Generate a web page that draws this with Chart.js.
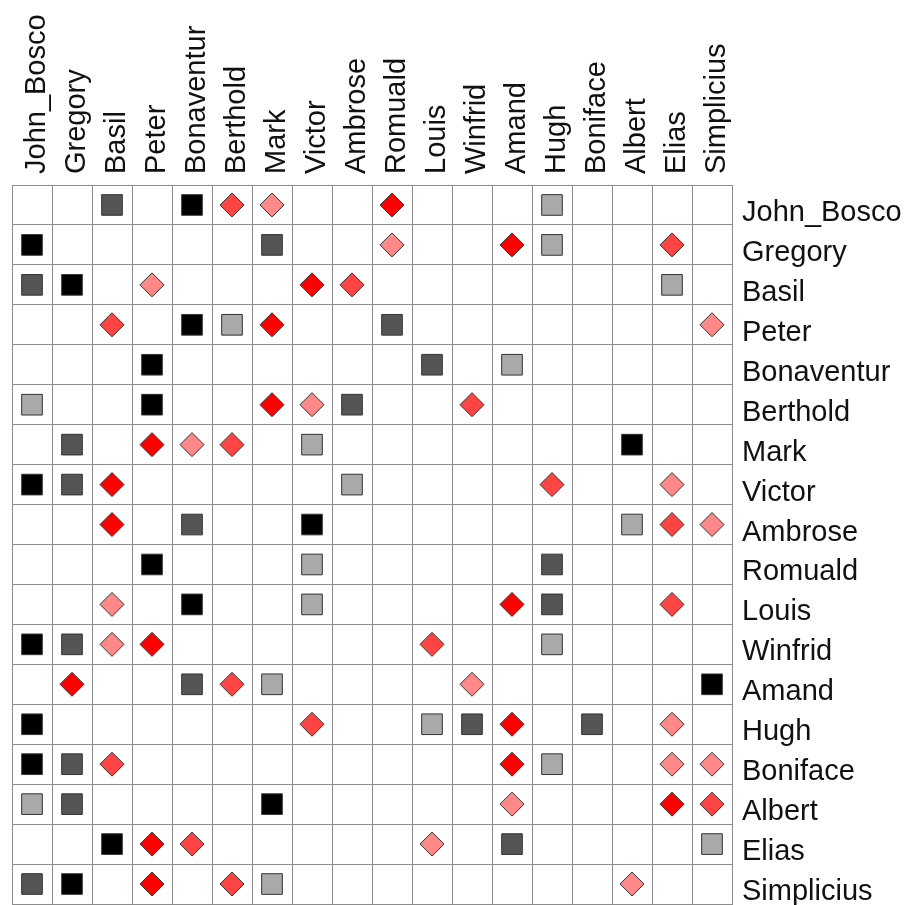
<!DOCTYPE html>
<html>
<head>
<meta charset="utf-8">
<script src="https://cdn.jsdelivr.net/npm/chart.js@4.4.1/dist/chart.umd.min.js"></script>
<style>
  html, body { margin: 0; padding: 0; background: #fff; }
  #wrap { width: 911px; height: 905px; position: relative; }
</style>
</head>
<body>
<div id="wrap"><canvas id="grafico"></canvas></div>
<script>
const names = ["John_Bosco", "Gregory", "Basil", "Peter", "Bonaventur", "Berthold", "Mark", "Victor", "Ambrose",
  "Romuald", "Louis", "Winfrid", "Amand", "Hugh", "Boniface", "Albert", "Elias", "Simplicius"];

// [fila, columna]
const blackSquares = [
  ["John_Bosco", "Bonaventur"], ["Gregory", "John_Bosco"], ["Basil", "Gregory"], ["Peter", "Bonaventur"],
  ["Bonaventur", "Peter"], ["Berthold", "Peter"], ["Mark", "Albert"], ["Victor", "John_Bosco"],
  ["Ambrose", "Victor"], ["Romuald", "Peter"], ["Louis", "Bonaventur"], ["Winfrid", "John_Bosco"],
  ["Amand", "Simplicius"], ["Hugh", "John_Bosco"], ["Boniface", "John_Bosco"], ["Albert", "Mark"],
  ["Elias", "Basil"], ["Simplicius", "Gregory"],
];
const darkSquares = [
  ["John_Bosco", "Basil"], ["Gregory", "Mark"], ["Basil", "John_Bosco"], ["Peter", "Romuald"],
  ["Bonaventur", "Louis"], ["Berthold", "Ambrose"], ["Mark", "Gregory"], ["Victor", "Gregory"],
  ["Ambrose", "Bonaventur"], ["Romuald", "Hugh"], ["Louis", "Hugh"], ["Winfrid", "Gregory"],
  ["Amand", "Bonaventur"], ["Hugh", "Winfrid"], ["Hugh", "Boniface"], ["Boniface", "Gregory"],
  ["Albert", "Gregory"], ["Elias", "Amand"], ["Simplicius", "John_Bosco"],
];
const lightSquares = [
  ["John_Bosco", "Hugh"], ["Gregory", "Hugh"], ["Basil", "Elias"], ["Peter", "Berthold"],
  ["Bonaventur", "Amand"], ["Berthold", "John_Bosco"], ["Mark", "Victor"], ["Victor", "Ambrose"],
  ["Ambrose", "Albert"], ["Romuald", "Victor"], ["Louis", "Victor"], ["Winfrid", "Hugh"],
  ["Amand", "Mark"], ["Hugh", "Louis"], ["Boniface", "Hugh"], ["Albert", "John_Bosco"],
  ["Elias", "Simplicius"], ["Simplicius", "Mark"],
];
const redDiamonds = [
  ["John_Bosco", "Romuald"], ["Gregory", "Amand"], ["Basil", "Victor"], ["Peter", "Mark"],
  ["Berthold", "Mark"], ["Mark", "Peter"], ["Victor", "Basil"], ["Ambrose", "Basil"],
  ["Louis", "Amand"], ["Winfrid", "Peter"], ["Amand", "Gregory"], ["Hugh", "Amand"],
  ["Boniface", "Amand"], ["Albert", "Elias"], ["Elias", "Peter"], ["Simplicius", "Peter"],
];
const midDiamonds = [
  ["John_Bosco", "Berthold"], ["Gregory", "Elias"], ["Basil", "Ambrose"], ["Peter", "Basil"],
  ["Berthold", "Winfrid"], ["Mark", "Berthold"], ["Victor", "Hugh"], ["Ambrose", "Elias"],
  ["Louis", "Elias"], ["Winfrid", "Louis"], ["Amand", "Berthold"], ["Hugh", "Victor"],
  ["Boniface", "Basil"], ["Albert", "Simplicius"], ["Elias", "Bonaventur"], ["Simplicius", "Berthold"],
];
const pinkDiamonds = [
  ["John_Bosco", "Mark"], ["Gregory", "Romuald"], ["Basil", "Peter"], ["Peter", "Simplicius"],
  ["Berthold", "Victor"], ["Mark", "Bonaventur"], ["Victor", "Elias"], ["Ambrose", "Simplicius"],
  ["Louis", "Basil"], ["Winfrid", "Basil"], ["Amand", "Winfrid"], ["Hugh", "Elias"],
  ["Boniface", "Elias"], ["Boniface", "Simplicius"], ["Albert", "Amand"], ["Elias", "Louis"],
  ["Simplicius", "Albert"],
];

const aPuntos = (pares) => pares.map(([fila, col]) => ({ x: col, y: fila }));

function serie(label, pares, color, estilo, radio) {
  return {
    label,
    data: aPuntos(pares),
    pointStyle: estilo,
    pointRadius: radio,
    pointHoverRadius: radio,
    backgroundColor: color,
    borderColor: "#333333",
    borderWidth: 1,
  };
}

const fuente = { family: "'Liberation Sans', Arial, sans-serif", size: 29 };
const colorLinea = "#8c8c8c";

new Chart(document.getElementById("grafico"), {
  type: "scatter",
  data: {
    datasets: [
      serie("black", blackSquares, "#000000", "rect", 14.6),
      serie("dark", darkSquares, "#555555", "rect", 14.6),
      serie("light", lightSquares, "#aaaaaa", "rect", 14.6),
      serie("red", redDiamonds, "#ff0000", "rectRot", 12),
      serie("mid", midDiamonds, "#ff4444", "rectRot", 12),
      serie("pink", pinkDiamonds, "#ff8888", "rectRot", 12),
    ],
  },
  options: {
    responsive: true,
    maintainAspectRatio: false,
    animation: false,
    layout: { autoPadding: false, padding: { left: 12, right: 0, top: 0, bottom: 1 } },
    plugins: { legend: { display: false }, tooltip: { enabled: false } },
    scales: {
      x: {
        type: "category",
        labels: names,
        position: "top",
        offset: true,
        grid: { offset: true, color: colorLinea, drawTicks: false },
        border: { color: colorLinea },
        ticks: {
          autoSkip: false,
          minRotation: 90,
          maxRotation: 90,
          padding: 11,
          color: "#111",
          font: fuente,
          labelOffset: 40,
        },
        afterFit: (scale) => {
          scale.height = 185;
          scale.paddingLeft = 0;
          scale.paddingRight = 0;
        },
      },
      y: {
        type: "category",
        labels: names,
        position: "right",
        offset: true,
        grid: { offset: true, color: colorLinea, drawTicks: false },
        border: { color: colorLinea },
        ticks: {
          autoSkip: false,
          padding: 10,
          color: "#111",
          font: fuente,
          labelOffset: 8,
        },
        afterFit: (scale) => {
          scale.width = 179;
          scale.paddingTop = 0;
          scale.paddingBottom = 0;
        },
      },
    },
  },
});
</script>
</body>
</html>
